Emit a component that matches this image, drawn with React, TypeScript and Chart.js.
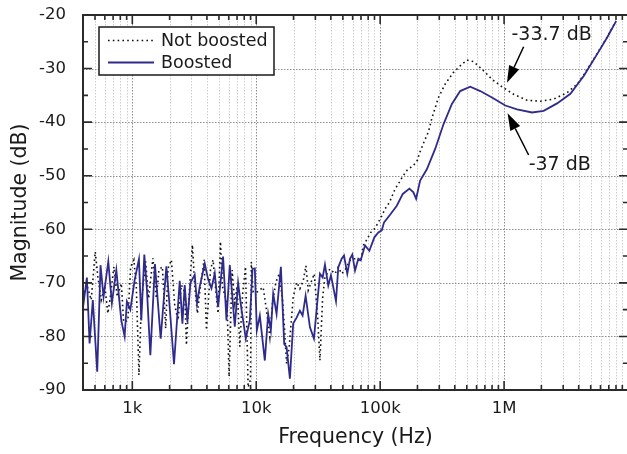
import React, { useEffect, useRef } from 'react';
import { Chart, registerables } from 'chart.js';

Chart.register(...registerables);

const seriesNames = ['Not boosted', 'Boosted'];

const boostedFreq = [
  399, 430, 452, 480, 521, 554, 586, 640, 684, 743, 815, 867, 904, 964, 1044, 1131, 1182, 1250, 1312, 1398,
  1523, 1694, 1884, 2002, 2170, 2413, 2537, 2648, 2783, 2944, 3189, 3328, 3500, 3842, 4085, 4351, 4627, 4920,
  5401, 5752, 6117, 6714, 7141, 7606, 8239, 8878, 9333, 9743, 10110, 10690, 11730, 12480, 13120, 13700, 14590,
  15810, 16810, 17580, 18690, 19870, 21180, 22510, 23670, 25030, 27130, 29220, 32670, 34360, 35860, 38130,
  40090, 44010, 45920, 48940, 51080, 54300, 57110, 59610, 62690, 66650, 69690, 75480, 81790, 89790, 96720,
  103000, 107500, 120200, 136200, 152300, 172200, 185500, 195100, 210200, 238100, 277900, 324300, 379200,
  442500, 533000, 642100, 798400, 1023000, 1272000, 1681000, 2086000, 2678000, 3429000, 4393000, 5636000,
  6789000, 7998000,
];
const boostedMag = [
  -74.8, -69, -81.3, -73.2, -86.6, -66.7, -72.6, -66, -73.8, -67.6, -77, -80, -73.5, -75, -69.5, -65.6, -77, -64.7, -71.3, -83.5,
  -66.5, -80.4, -66.9, -74.5, -85.2, -69.6, -77.6, -70.4, -77.3, -70, -68.5, -73.8, -70.7, -66.4, -69.3, -71, -68.2, -74.5,
  -65.1, -77, -66.7, -78.2, -70, -75, -80.4, -77, -67.4, -67.3, -78.9, -76.1, -84.5, -75.8, -78.9, -72, -75.8,
  -67, -81.4, -82, -87.9, -77.6, -76.5, -75.2, -76.1, -72.4, -78.3, -80.4, -68.3, -69, -66.6, -70.5,
  -68.6, -73.4, -67.1, -65.5, -64.9, -68.3, -65.5, -64.7, -67.7, -65.5, -65.8, -63, -64, -61.5, -60.6,
  -60.2, -58.7, -57.3, -55.6, -53.4, -52.4, -53.1, -54.3, -50.9, -48.8, -45, -40.4, -36.6,
  -34.2, -33.4, -34.2, -35.4, -36.9, -37.6, -38.2, -37.9, -36.5, -34.7, -31.4, -27.3,
  -24.2, -21.2,
];

const notBoostedFreq = [
  399, 430, 466, 502, 527, 561, 600, 635, 668, 710, 756, 815, 851, 921, 969, 1030, 1077, 1131, 1182, 1281,
  1354, 1467, 1563, 1641, 1748, 1859, 1940, 2067, 2198, 2337, 2490, 2648, 2733, 2869, 3055, 3189, 3354, 3500,
  3792, 3966, 4272, 4484, 4713, 4920, 5145, 5340, 5573, 5817, 6037, 6386, 6714, 7008, 7369, 7750, 8196, 8601,
  8993, 9128, 9439, 10170, 11370, 12120, 12880, 13550, 14400, 15320, 16320, 16810, 17580, 18450, 19870, 21180,
  22510, 23940, 25180, 26280, 27990, 29380, 31310, 32670, 34360, 35860, 39360, 43190, 45920, 48940, 52040,
  57110, 60740, 64700, 69690, 73140, 78800, 83950, 90950, 96720, 103000, 109500, 118700, 131900, 142900,
  152300, 166000, 185500, 199800, 207500, 227700, 245200, 261300, 295400, 334600, 390700, 456800, 501200,
  566800, 662700, 798400, 961600, 1193000, 1531000, 1961000, 2513000, 3225000, 3886000, 4393000, 5636000,
  6789000, 7998000,
];
const notBoostedMag = [
  -72.6, -70.4, -73.2, -64.2, -68.8, -73.2, -70.7, -75.7, -72.3, -67, -72.6, -70.1, -77.3, -77, -67, -65.7, -70.7, -87.2, -73.8, -66,
  -72.9, -65.4, -72.9, -67.6, -67, -78.5, -67.3, -65.7, -74.1, -77, -70.4, -71.7, -81.6, -72.6, -62.9, -70.7, -75.7, -71.7,
  -65.7, -78.8, -67.6, -65.7, -71.3, -75.7, -62.3, -70.7, -72.3, -73.8, -87.5, -67.6, -73.8, -70.7, -81.9, -72.3, -67, -89.5,
  -88, -66.1, -71.7, -71.7, -70.8, -75.2, -80.1, -73.6, -69.9, -68.3, -73.3, -77.6, -85.1, -82, -72.7, -69.9,
  -71.1, -69.6, -66.8, -71.4, -69.6, -68.3, -76.4, -84.5, -72.7, -68.9, -67.4, -68.3, -67.1, -68.3, -67.6,
  -65.8, -65.5, -65.5, -66, -63, -61.8, -60.6, -59.8, -58.7, -57.5, -56.2, -55, -52.5, -51.2,
  -50.1, -48.9, -48.1, -47.1, -45.8, -43.5, -41.8, -39.3, -35.4, -32.9, -30.7, -29.2, -28.4,
  -28.7, -30.1, -32, -33.4, -34.8, -35.9, -36.1, -35.7, -34.5, -32.9, -31.2, -27.2,
  -24.1, -21.1,
];

const xTickValues = [1e3, 1e4, 1e5, 1e6];
const xTickLabels = ['1k', '10k', '100k', '1M'];
const yTickValues = [-90, -80, -70, -60, -50, -40, -30, -20];
const yMinorValues = [-85, -75, -65, -55, -45, -35, -25];
const xMinorMultipliers = [2, 3, 4, 5, 6, 7, 8, 9];
const xDecades = [100, 1e3, 1e4, 1e5, 1e6];

const annotationTexts = ['-33.7 dB', '-37 dB'];
const annotationTextAt = [[1.148e6, -23.73], [1.578e6, -48.0]];
const annotationTail = [[1.438e6, -25.92], [1.578e6, -46.13]];
const annotationTip = [[1.055e6, -32.64], [1.067e6, -38.35]];

const FONT = '"DejaVu Sans", "Liberation Sans", Arial, sans-serif';
const INK = '#1a1a1a';
const BOOST_COLOR = '#2f2b8c';

const framePlugin = {
  id: 'frameAndDecor',
  beforeDatasetsDraw(chart: any) {
    const { ctx, chartArea: a, scales } = chart;
    const x = scales.x;
    const y = scales.y;
    ctx.save();
    ctx.beginPath();
    ctx.rect(a.left, a.top, a.right - a.left, a.bottom - a.top);
    ctx.clip();
    ctx.lineWidth = 1;
    ctx.setLineDash([1.5, 1.5]);
    ctx.strokeStyle = '#cdcdcd';
    for (const d of xDecades) {
      for (const m of xMinorMultipliers) {
        const v = d * m;
        if (v <= x.min || v >= x.max) continue;
        const px = Math.round(x.getPixelForValue(v)) + 0.5;
        ctx.beginPath();
        ctx.moveTo(px, a.top);
        ctx.lineTo(px, a.bottom);
        ctx.stroke();
      }
    }
    ctx.strokeStyle = '#8e8e8e';
    for (const v of xTickValues) {
      const px = Math.round(x.getPixelForValue(v)) + 0.5;
      ctx.beginPath();
      ctx.moveTo(px, a.top);
      ctx.lineTo(px, a.bottom);
      ctx.stroke();
    }
    for (const v of yTickValues) {
      if (v <= y.min || v >= y.max) continue;
      const py = Math.round(y.getPixelForValue(v)) + 0.5;
      ctx.beginPath();
      ctx.moveTo(a.left, py);
      ctx.lineTo(a.right, py);
      ctx.stroke();
    }
    ctx.restore();
  },
  afterDatasetsDraw(chart: any) {
    const { ctx, chartArea: a, scales } = chart;
    const x = scales.x;
    const y = scales.y;
    ctx.save();
    ctx.setLineDash([]);
    ctx.strokeStyle = '#2a2a2a';
    ctx.lineWidth = 1.6;
    const majorLen = 9;
    const minorLen = 5;
    const vTick = (px: number, len: number) => {
      ctx.beginPath();
      ctx.moveTo(px, a.bottom);
      ctx.lineTo(px, a.bottom - len);
      ctx.moveTo(px, a.top);
      ctx.lineTo(px, a.top + len);
      ctx.stroke();
    };
    const hTick = (py: number, len: number) => {
      ctx.beginPath();
      ctx.moveTo(a.left, py);
      ctx.lineTo(a.left + len, py);
      ctx.moveTo(a.right, py);
      ctx.lineTo(a.right - len, py);
      ctx.stroke();
    };
    for (const d of xDecades) {
      for (const m of xMinorMultipliers) {
        const v = d * m;
        if (v <= x.min || v >= x.max) continue;
        vTick(x.getPixelForValue(v), minorLen);
      }
    }
    for (const v of xTickValues) vTick(x.getPixelForValue(v), majorLen);
    for (const v of yMinorValues) hTick(y.getPixelForValue(v), minorLen);
    for (const v of yTickValues) hTick(y.getPixelForValue(v), majorLen);

    ctx.lineWidth = 2;
    ctx.beginPath();
    ctx.moveTo(a.right + 1, a.top);
    ctx.lineTo(a.left, a.top);
    ctx.lineTo(a.left, a.bottom);
    ctx.lineTo(a.right + 1, a.bottom);
    ctx.stroke();
    ctx.beginPath();
    ctx.moveTo(a.right, a.top);
    ctx.lineTo(a.right, a.bottom);
    ctx.stroke();

    const lx = a.left + 16;
    const ly = a.top + 12;
    const lw = 175;
    const lh = 48;
    ctx.fillStyle = '#ffffff';
    ctx.fillRect(lx, ly, lw, lh);
    ctx.lineWidth = 1.5;
    ctx.strokeStyle = '#1a1a1a';
    ctx.strokeRect(lx, ly, lw, lh);
    const row1 = ly + 13.5;
    const row2 = ly + 35.5;
    ctx.lineWidth = 1.6;
    ctx.strokeStyle = '#111';
    ctx.setLineDash([1.6, 3.2]);
    ctx.beginPath();
    ctx.moveTo(lx + 9, row1);
    ctx.lineTo(lx + 55, row1);
    ctx.stroke();
    ctx.setLineDash([]);
    ctx.strokeStyle = BOOST_COLOR;
    ctx.lineWidth = 1.8;
    ctx.beginPath();
    ctx.moveTo(lx + 9, row2);
    ctx.lineTo(lx + 55, row2);
    ctx.stroke();
    ctx.fillStyle = INK;
    ctx.font = `17.5px ${FONT}`;
    ctx.textAlign = 'left';
    ctx.textBaseline = 'middle';
    ctx.fillText(seriesNames[0], lx + 62, row1 + 0.5);
    ctx.fillText(seriesNames[1], lx + 62, row2 + 0.5);

    ctx.font = `19px ${FONT}`;
    for (let i = 0; i < annotationTexts.length; i++) {
      const tx = x.getPixelForValue(annotationTextAt[i][0]);
      const ty = y.getPixelForValue(annotationTextAt[i][1]);
      ctx.fillStyle = INK;
      ctx.fillText(annotationTexts[i], tx, ty);
      const x0 = x.getPixelForValue(annotationTail[i][0]);
      const y0 = y.getPixelForValue(annotationTail[i][1]);
      const x1 = x.getPixelForValue(annotationTip[i][0]);
      const y1 = y.getPixelForValue(annotationTip[i][1]);
      const ang = Math.atan2(y1 - y0, x1 - x0);
      const headLen = 17;
      const headHalf = 5.5;
      const bx = x1 - headLen * Math.cos(ang);
      const by = y1 - headLen * Math.sin(ang);
      ctx.strokeStyle = '#000';
      ctx.lineWidth = 1.5;
      ctx.beginPath();
      ctx.moveTo(x0, y0);
      ctx.lineTo(bx, by);
      ctx.stroke();
      ctx.fillStyle = '#000';
      ctx.beginPath();
      ctx.moveTo(x1, y1);
      ctx.lineTo(bx + headHalf * Math.sin(ang), by - headHalf * Math.cos(ang));
      ctx.lineTo(bx - headHalf * Math.sin(ang), by + headHalf * Math.cos(ang));
      ctx.closePath();
      ctx.fill();
    }
    ctx.restore();
  },
};

export default function App() {
  const ref = useRef<HTMLCanvasElement>(null);
  useEffect(() => {
    const canvas = ref.current;
    if (!canvas) return;
    const chart = new Chart(canvas, {
      type: 'line',
      data: {
        datasets: [
          {
            label: seriesNames[1],
            data: boostedFreq.map((f, i) => ({ x: f, y: boostedMag[i] })),
            borderColor: BOOST_COLOR,
            borderWidth: 1.8,
            pointRadius: 0,
            tension: 0,
            order: 0,
          },
          {
            label: seriesNames[0],
            data: notBoostedFreq.map((f, i) => ({ x: f, y: notBoostedMag[i] })),
            borderColor: '#111111',
            borderWidth: 1.6,
            borderDash: [1.6, 3.2],
            pointRadius: 0,
            tension: 0,
            order: 1,
          },
        ],
      },
      options: {
        responsive: false,
        animation: false,
        devicePixelRatio: 1,
        layout: { padding: { top: 15, right: 1, left: 0, bottom: 0 } },
        plugins: { legend: { display: false }, tooltip: { enabled: false } },
        scales: {
          x: {
            type: 'logarithmic',
            min: 400,
            max: 1e7,
            grid: { display: false },
            border: { display: false },
            afterBuildTicks: (s: any) => {
              s.ticks = xTickValues.map((v) => ({ value: v }));
            },
            afterFit: (s: any) => {
              s.height = 64;
              s.paddingLeft = 0;
              s.paddingRight = 0;
            },
            ticks: {
              autoSkip: false,
              maxRotation: 0,
              padding: 1,
              color: INK,
              font: { family: FONT, size: 16.5 },
              callback: (v: any) => {
                const i = xTickValues.indexOf(Number(v));
                return i >= 0 ? xTickLabels[i] : '';
              },
            },
            title: {
              display: true,
              text: 'Frequency (Hz)',
              color: INK,
              font: { family: FONT, size: 20.5 },
              padding: { top: 0, bottom: 4 },
            },
          },
          y: {
            type: 'linear',
            min: -90,
            max: -20,
            grid: { display: false },
            border: { display: false },
            afterBuildTicks: (s: any) => {
              s.ticks = yTickValues.map((v) => ({ value: v }));
            },
            afterFit: (s: any) => {
              s.width = 83;
              s.paddingTop = 0;
              s.paddingBottom = 0;
            },
            ticks: {
              padding: 9,
              color: INK,
              font: { family: FONT, size: 16.5 },
            },
            title: {
              display: true,
              text: 'Magnitude (dB)',
              color: INK,
              font: { family: FONT, size: 20.5 },
              padding: { top: 8, bottom: 0 },
            },
          },
        },
      },
      plugins: [framePlugin],
    } as any);
    return () => chart.destroy();
  }, []);
  return (
    <div
      style={{
        position: 'fixed',
        left: 0,
        top: 0,
        width: 627,
        height: 454,
        overflow: 'hidden',
        background: '#fff',
      }}
    >
      <canvas ref={ref} width={629} height={454} style={{ display: 'block' }} />
    </div>
  );
}
